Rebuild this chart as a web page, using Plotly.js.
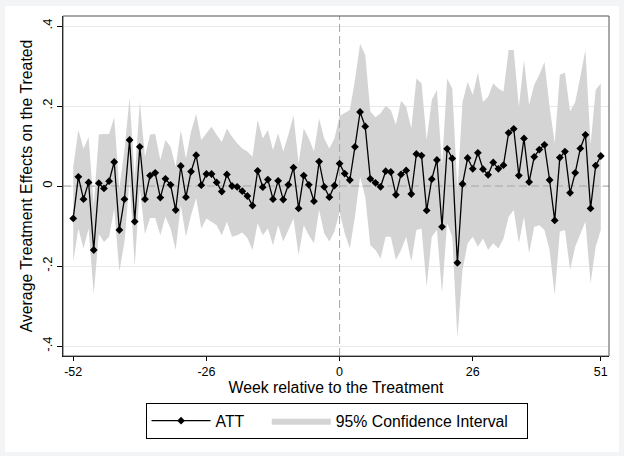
<!DOCTYPE html>
<html>
<head>
<meta charset="utf-8">
<script src="https://cdn.plot.ly/plotly-3.0.1.min.js"></script>
<style>
html,body{margin:0;padding:0;background:#ffffff;}
#wrap{position:relative;width:624px;height:456px;}
#plot{position:absolute;left:0;top:0;width:624px;height:456px;}
#frame{position:absolute;left:0;top:0;width:624px;height:456px;box-sizing:border-box;
  border-style:solid;border-color:#f3f4f5;border-width:6px 5px 4px 5px;pointer-events:none;}
</style>
</head>
<body>
<div id="wrap"><div id="plot"></div><div id="frame"></div></div>
<script>
const weeks = [-52,-51,-50,-49,-48,-47,-46,-45,-44,-43,-42,-41,-40,-39,-38,-37,-36,-35,-34,-33,-32,-31,-30,-29,-28,-27,
  -26,-25,-24,-23,-22,-21,-20,-19,-18,-17,-16,-15,-14,-13,-12,-11,-10,-9,-8,-7,-6,-5,-4,-3,-2,-1,
  0,1,2,3,4,5,6,7,8,9,10,11,12,13,14,15,16,17,18,19,20,21,22,23,24,25,
  26,27,28,29,30,31,32,33,34,35,36,37,38,39,40,41,42,43,44,45,46,47,48,49,50,51];

const att = [-0.081,0.023,-0.033,0.009,-0.160,0.007,-0.006,0.012,0.060,-0.110,-0.033,0.115,-0.089,0.098,-0.033,0.026,0.033,-0.029,0.018,0.003,-0.060,0.050,-0.028,0.036,0.077,0.002,
  0.030,0.030,0.009,-0.014,0.029,0.000,-0.002,-0.013,-0.025,-0.049,0.038,-0.003,0.016,-0.033,0.013,-0.034,0.003,0.046,-0.056,0.026,0.003,-0.038,0.061,-0.002,-0.028,0.001,
  0.056,0.031,0.015,0.098,0.185,0.149,0.018,0.008,-0.002,0.037,0.035,-0.022,0.029,0.039,-0.020,0.080,0.076,-0.061,0.017,0.065,-0.102,0.093,0.069,-0.192,0.005,0.070,
  0.043,0.083,0.042,0.028,0.059,0.043,0.052,0.133,0.143,0.026,0.119,0.010,0.073,0.091,0.103,0.015,-0.086,0.071,0.086,-0.017,0.033,0.094,0.128,-0.056,0.051,0.075];

const ciUpper = [0.048,0.140,0.094,0.122,-0.050,0.129,0.130,0.130,0.172,-0.006,0.090,0.221,0.020,0.211,0.073,0.129,0.130,0.065,0.115,0.098,0.048,0.140,0.069,0.136,0.180,0.115,
  0.132,0.148,0.128,0.110,0.144,0.123,0.107,0.094,0.086,0.073,0.165,0.119,0.140,0.090,0.132,0.086,0.128,0.176,0.057,0.144,0.119,0.086,0.169,0.119,0.094,0.119,
  0.175,0.182,0.190,0.265,0.355,0.328,0.186,0.172,0.182,0.200,0.190,0.153,0.213,0.198,0.144,0.269,0.257,0.115,0.215,0.240,0.050,0.269,0.244,-0.010,0.210,0.260,
  0.228,0.283,0.210,0.223,0.257,0.244,0.236,0.340,0.340,0.198,0.315,0.203,0.253,0.278,0.310,0.198,0.107,0.278,0.283,0.186,0.210,0.273,0.340,0.103,0.240,0.257];

const ciLower = [-0.190,-0.106,-0.156,-0.106,-0.270,-0.120,-0.140,-0.127,-0.056,-0.214,-0.140,0.015,-0.200,-0.006,-0.120,-0.080,-0.080,-0.123,-0.077,-0.106,-0.160,-0.048,-0.127,-0.073,-0.030,-0.106,
  -0.081,-0.089,-0.098,-0.123,-0.089,-0.127,-0.123,-0.116,-0.130,-0.160,-0.093,-0.123,-0.106,-0.148,-0.098,-0.139,-0.110,-0.081,-0.173,-0.098,-0.123,-0.143,-0.060,-0.118,-0.139,-0.114,
  -0.065,-0.118,-0.156,-0.077,0.023,-0.027,-0.148,-0.160,-0.181,-0.127,-0.127,-0.185,-0.160,-0.127,-0.189,-0.110,-0.106,-0.252,-0.127,-0.110,-0.268,-0.093,-0.127,-0.380,-0.210,-0.143,
  -0.127,-0.152,-0.131,-0.160,-0.143,-0.156,-0.131,-0.077,-0.060,-0.143,-0.077,-0.168,-0.102,-0.098,-0.110,-0.160,-0.273,-0.114,-0.110,-0.210,-0.152,-0.118,-0.089,-0.243,-0.152,-0.110];

const xTicks = [-52, -26, 0, 26, 51];
const yTicks = [-0.4, -0.2, 0, 0.2, 0.4];
const yTickText = ['-.4', '-.2', '0', '.2', '.4'];
const xRange = [-54.0, 52.6];
const yRange = [-0.425, 0.425];
const seriesNames = ['ATT', '95% Confidence Interval'];

const FONT = '"Liberation Sans", Arial, Helvetica, sans-serif';
const bandColor = '#d4d4d4';
const refColor = '#a6a6a6';
const NB = '\u00a0';

const traces = [
  {x: weeks, y: ciUpper, type: 'scatter', mode: 'lines', line: {width: 0, color: bandColor},
   showlegend: false, hoverinfo: 'skip'},
  {x: weeks, y: ciLower, type: 'scatter', mode: 'lines', line: {width: 0, color: bandColor},
   fill: 'tonexty', fillcolor: bandColor, name: seriesNames[1] + NB + NB + NB, legendrank: 2},
  {x: [xRange[0], xRange[1]], y: [0, 0], type: 'scatter', mode: 'lines',
   line: {color: refColor, width: 1, dash: '8px,4px'}, showlegend: false, hoverinfo: 'skip'},
  {x: [0, 0], y: [yRange[0], yRange[1]], type: 'scatter', mode: 'lines',
   line: {color: refColor, width: 1, dash: '8px,4px'}, showlegend: false, hoverinfo: 'skip'},
  {x: weeks, y: att, type: 'scatter', mode: 'lines+markers', name: seriesNames[0] + NB + NB + NB + NB, legendrank: 1,
   line: {color: '#000000', width: 1.3},
   marker: {symbol: 'diamond', size: 6, color: '#000000'}}
];

const layout = {
  width: 624, height: 456,
  margin: {l: 63, r: 15, t: 16, b: 100, pad: 0},
  paper_bgcolor: '#ffffff', plot_bgcolor: '#ffffff',
  font: {family: FONT, color: '#000000', size: 13},
  showlegend: true,
  legend: {orientation: 'h', x: 0.501, xanchor: 'center', y: -0.138, yanchor: 'top',
    bordercolor: '#000000', borderwidth: 1, bgcolor: '#ffffff',
    font: {family: FONT, size: 15.8, color: '#000000'}, itemwidth: 59, traceorder: 'normal'},
  xaxis: {range: xRange, tickvals: xTicks, ticktext: xTicks.map(String),
    ticks: 'outside', ticklen: 4, tickcolor: '#000000', tickwidth: 1,
    showline: true, linecolor: '#000000', linewidth: 1, showgrid: false, zeroline: false,
    tickfont: {family: FONT, size: 12.5},
    title: {text: 'Week relative to the Treatment', font: {family: FONT, size: 15.8}, standoff: 3}},
  yaxis: {range: yRange, tickvals: yTicks, ticktext: yTickText, tickangle: -90,
    ticks: 'outside', ticklen: 5, tickcolor: '#000000', tickwidth: 1,
    showline: true, linecolor: '#000000', linewidth: 1, showgrid: true, gridcolor: '#e8e8e8', gridwidth: 1,
    zeroline: false, tickfont: {family: FONT, size: 13},
    title: {text: 'Average Treatment Effects on the Treated', font: {family: FONT, size: 15.8}, standoff: 3}},
  shapes: [
    {type: 'rect', xref: 'paper', yref: 'paper', x0: 0, x1: 1, y0: 0, y1: 1,
     line: {color: '#555555', width: 1}, layer: 'above'}
  ]
};

Plotly.newPlot('plot', traces, layout, {staticPlot: true, displayModeBar: false});
</script>
</body>
</html>
